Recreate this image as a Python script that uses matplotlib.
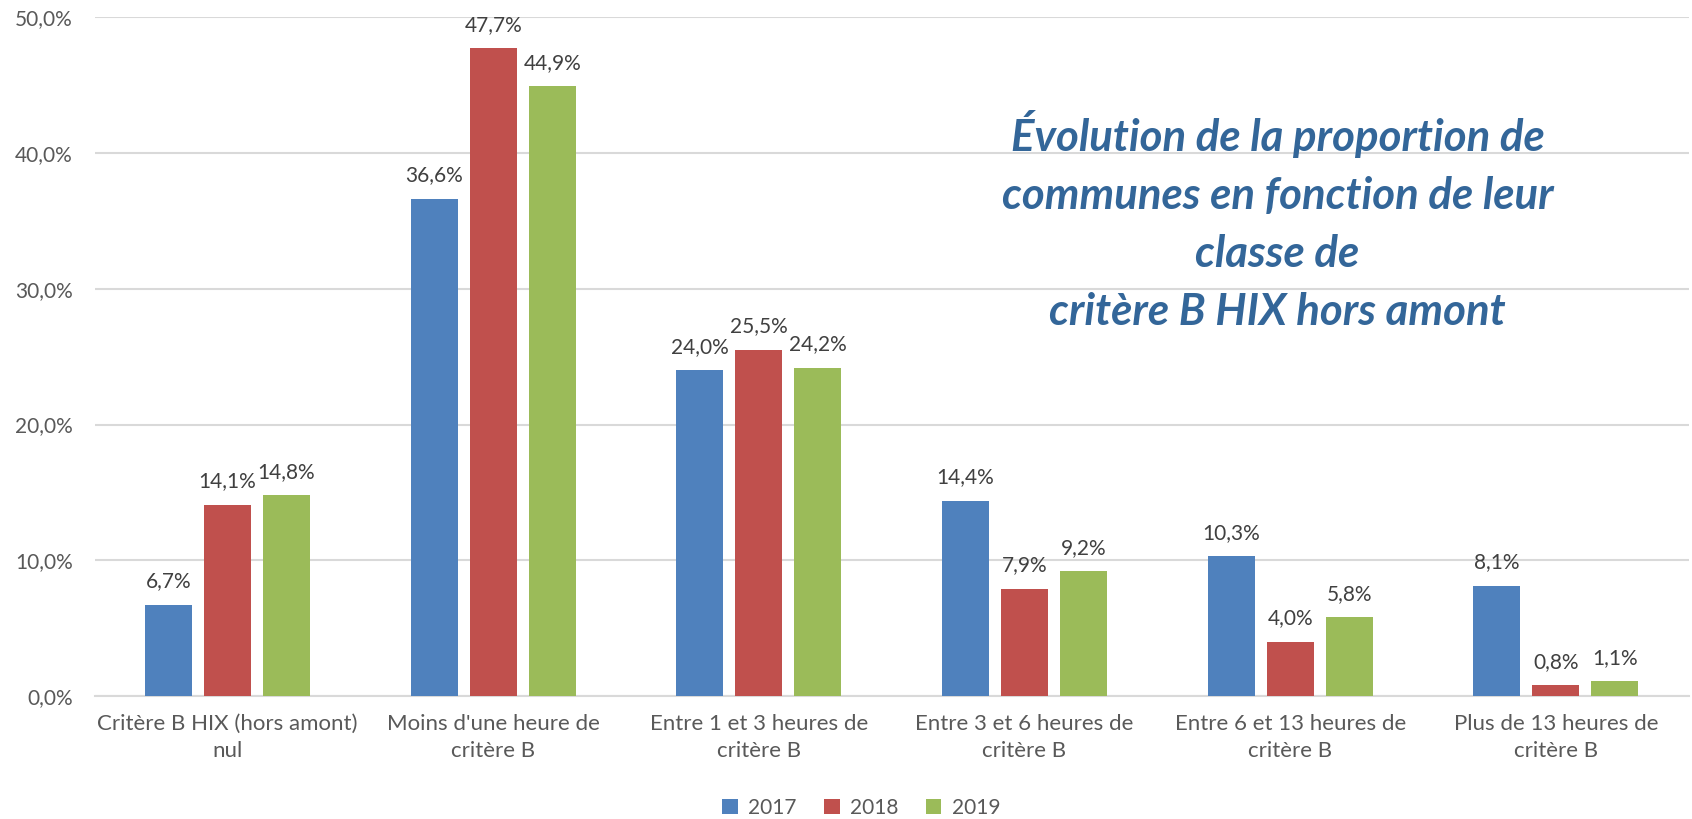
import matplotlib.pyplot as plt
import numpy as np

categories = ["Critère B HIX (hors amont)\nnul",
              "Moins d'une heure de\ncritère B",
              "Entre 1 et 3 heures de\ncritère B",
              "Entre 3 et 6 heures de\ncritère B",
              "Entre 6 et 13 heures de\ncritère B",
              "Plus de 13 heures de\ncritère B"]
years = ["2017", "2018", "2019"]
v2017 = [6.7, 36.6, 24.0, 14.4, 10.3, 8.1]
v2018 = [14.1, 47.7, 25.5, 7.9, 4.0, 0.8]
v2019 = [14.8, 44.9, 24.2, 9.2, 5.8, 1.1]
colors = ['#4F81BD', '#C0504D', '#9BBB59']

plt.rcParams['font.family'] = ['Lato', 'DejaVu Sans']
TXT = '#595959'

def pct(v):
    return ('%.1f%%' % v).replace('.', ',')

fig = plt.figure(figsize=(16.92, 8.19), dpi=100)
ax = fig.add_axes([0.056, 0.150, 0.942, 0.829])

x = np.arange(len(categories))
w = 0.177
step = 0.222
for i, (vals, c, yr) in enumerate(zip([v2017, v2018, v2019], colors, years)):
    pos = x + (i - 1) * step
    ax.bar(pos, vals, width=w, color=c, label=yr, zorder=3)
    for p, v in zip(pos, vals):
        ax.text(p, v + 1.0, pct(v), ha='center', va='bottom',
                fontsize=15, color='#404040')

ax.set_xlim(-0.5, 5.5)
ax.set_ylim(0, 50)
yt = np.arange(0, 51, 10)
ax.set_yticks(yt)
ax.set_yticklabels([pct(t) for t in yt], fontsize=15, color=TXT)
ax.set_xticks(x)
ax.set_xticklabels(categories, fontsize=16, color=TXT, linespacing=1.45)
ax.tick_params(length=0)
ax.tick_params(axis='x', pad=13)
ax.tick_params(axis='y', pad=16)
ax.grid(axis='y', color='#D9D9D9', lw=1.5, zorder=0)
for s in ['top', 'right', 'left']:
    ax.spines[s].set_visible(False)
ax.spines['bottom'].set_color('#D9D9D9')
ax.spines['bottom'].set_linewidth(1.5)

# titre dans la zone de tracé, comme dans l'original
ax.text(0.742, 0.70, "Évolution de la proportion de\ncommunes en fonction de leur\nclasse de\ncritère B HIX hors amont",
        transform=ax.transAxes, ha='center', va='center', fontsize=31.5, fontweight='bold',
        fontstyle='italic', color='#336699', linespacing=1.54)

fig.legend(loc='center', bbox_to_anchor=(0.509, 0.014), ncol=3, frameon=False,
           fontsize=15, handlelength=0.75, handleheight=0.75, columnspacing=1.3,
           handletextpad=0.5, labelcolor=TXT, borderpad=0)

fig.savefig('out.png', dpi=100)
